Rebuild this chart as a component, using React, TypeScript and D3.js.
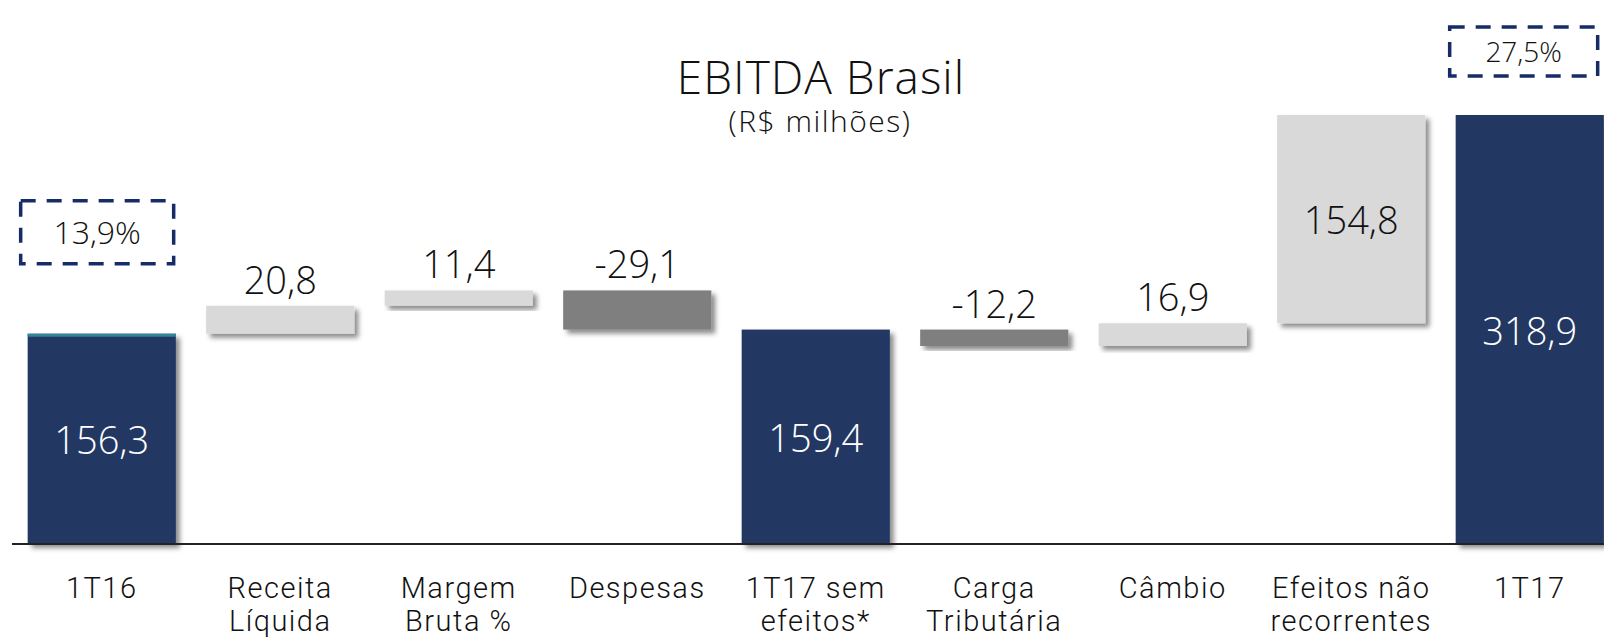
import React from 'react';
import { scaleBand, scaleLinear } from 'd3';

const width = 1604;
const height = 640;

// Chart data
const categories = [
  ['1T16'],
  ['Receita', 'Líquida'],
  ['Margem', 'Bruta %'],
  ['Despesas'],
  ['1T17 sem', 'efeitos*'],
  ['Carga', 'Tributária'],
  ['Câmbio'],
  ['Efeitos não', 'recorrentes'],
  ['1T17'],
];
const values = [156.3, 20.8, 11.4, -29.1, 159.4, -12.2, 16.9, 154.8, 318.9];
const isTotal = [true, false, false, false, true, false, false, false, true];
const marginIndex = [0, 8];
const marginLabels = ['13,9%', '27,5%'];

const navy = '#213864';
const lightGray = '#d9d9d9';
const darkGray = '#7f7f7f';
const boxColor = '#162c66';
const valueFont = '"Open Sans", Lato, sans-serif';
const labelFont = 'Roboto, Lato, sans-serif';

const fmt = (v: number) => v.toFixed(1).replace('.', ',');

const App = () => {
  const x = scaleBand<number>()
    .domain(values.map((_, i) => i))
    .range([12.5, 1619])
    .paddingInner(0.17)
    .paddingOuter(0.085);
  const y = scaleLinear().domain([0, 318.9]).range([544, 115]);

  // Build waterfall segments
  let running = 0;
  const bars = values.map((v, i) => {
    let start: number, end: number;
    if (isTotal[i]) {
      start = 0;
      end = v;
      running = v;
    } else {
      start = running;
      end = running + v;
      running = end;
    }
    const top = y(Math.max(start, end));
    const bottom = y(Math.min(start, end));
    const fill = isTotal[i] ? navy : v >= 0 ? lightGray : darkGray;
    return { i, v, top, bottom, fill };
  });

  // annotation box layout (gap above bar top, box height, font size)
  const boxLayout = [
    { gap: 70, h: 63, fs: 32, w: 153, dx: -7 },
    { gap: 39, h: 49, fs: 28, w: 148, dx: -6 },
  ];

  const bw = x.bandwidth();

  return (
    <svg
      width={width}
      height={height}
      style={{ position: 'absolute', left: 0, top: 0, display: 'block', background: '#fff' }}
    >
      <defs>
        <filter id="shadow" x="-10%" y="-10%" width="130%" height="140%">
          <feDropShadow dx="4" dy="4" stdDeviation="2.5" floodColor="#000" floodOpacity="0.45" />
        </filter>
      </defs>

      <text x={821} y={94} textAnchor="middle" fontFamily={valueFont} fontWeight={300} fontSize={46} letterSpacing={1} fill="#111">
        EBITDA Brasil
      </text>
      <text x={820} y={132} textAnchor="middle" fontFamily={valueFont} fontWeight={300} fontSize={30} letterSpacing={1.5} fill="#111">
        (R$ milhões)
      </text>

      {bars.map((b) => (
        <rect
          key={b.i}
          x={x(b.i)}
          y={b.top}
          width={bw}
          height={b.bottom - b.top}
          fill={b.fill}
          filter="url(#shadow)"
        />
      ))}
      <rect x={x(0)} y={bars[0].top} width={bw} height={3} fill="#31859c" />

      <line x1={12} x2={width} y1={544} y2={544} stroke="#222" strokeWidth={2} />

      {bars.map((b) => {
        const cx = (x(b.i) as number) + bw / 2;
        const inside = b.bottom - b.top > 100;
        const ty = inside ? (b.top + b.bottom) / 2 + 15 : b.top - 12;
        const color = inside && b.fill === navy ? '#fff' : '#111';
        return (
          <text
            key={'v' + b.i}
            x={cx}
            y={ty}
            textAnchor="middle"
            fontFamily={valueFont}
            fontWeight={300}
            fontSize={38}
            fill={color}
          >
            {fmt(b.v)}
          </text>
        );
      })}

      {categories.map((lines, i) => (
        <text
          key={'c' + i}
          x={(x(i) as number) + bw / 2}
          y={598}
          textAnchor="middle"
          fontFamily={labelFont}
          fontWeight={300}
          fontSize={29}
          letterSpacing={1.5}
          fill="#111"
        >
          {lines.map((l, j) => (
            <tspan key={j} x={(x(i) as number) + bw / 2} dy={j === 0 ? 0 : 33}>
              {l}
            </tspan>
          ))}
        </text>
      ))}

      {marginIndex.map((idx, k) => {
        const L = boxLayout[k];
        const bx = (x(idx) as number) + L.dx;
        const by = bars[idx].top - L.gap - L.h;
        return (
          <g key={'m' + k}>
            <rect
              x={bx}
              y={by}
              width={L.w}
              height={L.h}
              fill="none"
              stroke={boxColor}
              strokeWidth={3.5}
              strokeDasharray="15 11"
            />
            <text
              x={bx + L.w / 2}
              y={by + L.h / 2 + L.fs * 0.36}
              textAnchor="middle"
              fontFamily={valueFont}
              fontWeight={300}
              fontSize={L.fs}
              fill="#111"
            >
              {marginLabels[k]}
            </text>
          </g>
        );
      })}
    </svg>
  );
};

export default App;
